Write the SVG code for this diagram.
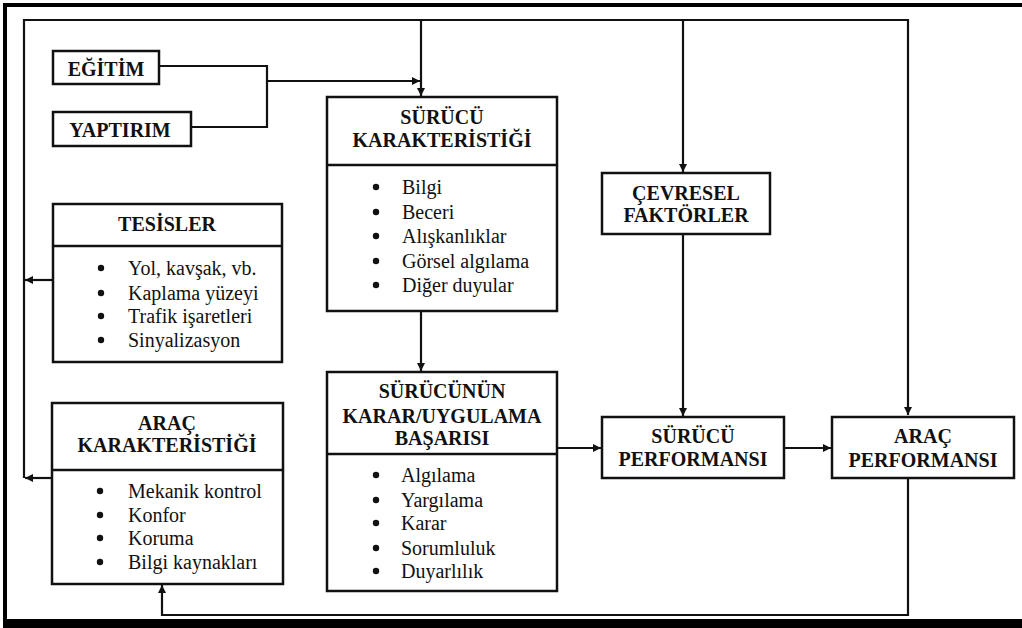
<svg xmlns="http://www.w3.org/2000/svg" width="1022" height="628" viewBox="0 0 1022 628">
<style>
.box{fill:#fff;stroke:#111;stroke-width:2.5}
.div{stroke:#111;stroke-width:2.5}
.ln{fill:none;stroke:#111;stroke-width:2.2}
.t{font-weight:bold;text-anchor:middle}
.d{fill:#111}
</style>
<defs>
<marker id="ah" viewBox="0 0 10 10" refX="10" refY="5" markerWidth="10" markerHeight="8" markerUnits="userSpaceOnUse" orient="auto"><path d="M0,0 L10,5 L0,10 z" fill="#111"/></marker>
</defs>
<rect x="0" y="0" width="1022" height="628" fill="#fff"/>
<rect x="5" y="5" width="1025" height="616" fill="none" stroke="#000" stroke-width="4"/>
<rect x="3" y="619" width="1019" height="9" fill="#000"/>

<g id="connectors">
<polyline class="ln" points="24,478 24,20 908,20 908,415" marker-end="url(#ah)"/>
<line class="ln" x1="421" y1="20" x2="421" y2="96" marker-end="url(#ah)"/>
<line class="ln" x1="683" y1="20" x2="683" y2="172" marker-end="url(#ah)"/>
<polyline class="ln" points="159,66 267,66 267,127 191,127"/>
<line class="ln" x1="267" y1="81" x2="420" y2="81" marker-end="url(#ah)"/>
<line class="ln" x1="421" y1="311" x2="421" y2="371" marker-end="url(#ah)"/>
<line class="ln" x1="683" y1="234" x2="683" y2="416" marker-end="url(#ah)"/>
<line class="ln" x1="557" y1="448" x2="601" y2="448" marker-end="url(#ah)"/>
<line class="ln" x1="784" y1="448" x2="831" y2="448" marker-end="url(#ah)"/>
<polyline class="ln" points="908,478 908,615 162,615 162,585" marker-end="url(#ah)"/>
<line class="ln" x1="53" y1="280" x2="25" y2="280" marker-end="url(#ah)"/>
<line class="ln" x1="52" y1="478" x2="25" y2="478" marker-end="url(#ah)"/>
</g>

<g font-family="Liberation Serif, Times New Roman, DejaVu Serif, serif" font-size="20" fill="#111">
<g id="egitim">
<rect class="box" x="53" y="51" width="106" height="33"/>
<text class="t" x="106" y="76">EĞİTİM</text>
</g>
<g id="yaptirim">
<rect class="box" x="53" y="112" width="138" height="34"/>
<text class="t" x="120" y="137">YAPTIRIM</text>
</g>

<g id="tesisler">
<rect class="box" x="53" y="204" width="229" height="158"/>
<line class="div" x1="53" y1="246" x2="282" y2="246"/>
<text class="t" x="167" y="231">TESİSLER</text>
<circle class="d" cx="101" cy="268" r="3.2"/><text x="128" y="275">Yol, kavşak, vb.</text>
<circle class="d" cx="101" cy="293" r="3.2"/><text x="128" y="300">Kaplama yüzeyi</text>
<circle class="d" cx="101" cy="316" r="3.2"/><text x="128" y="323">Trafik işaretleri</text>
<circle class="d" cx="101" cy="340" r="3.2"/><text x="128" y="347">Sinyalizasyon</text>
</g>

<g id="arac-karakteristigi">
<rect class="box" x="52" y="403" width="231" height="181"/>
<line class="div" x1="52" y1="470" x2="283" y2="470"/>
<text class="t" x="167" y="430">ARAÇ</text>
<text class="t" x="167" y="452">KARAKTERİSTİĞİ</text>
<circle class="d" cx="100" cy="491" r="3.2"/><text x="128" y="498">Mekanik kontrol</text>
<circle class="d" cx="100" cy="515" r="3.2"/><text x="128" y="522">Konfor</text>
<circle class="d" cx="100" cy="538" r="3.2"/><text x="128" y="545">Koruma</text>
<circle class="d" cx="100" cy="562" r="3.2"/><text x="128" y="569">Bilgi kaynakları</text>
</g>

<g id="surucu-karakteristigi">
<rect class="box" x="327" y="97" width="230" height="214"/>
<line class="div" x1="327" y1="165" x2="557" y2="165"/>
<text class="t" x="442" y="124">SÜRÜCÜ</text>
<text class="t" x="442" y="147">KARAKTERİSTİĞİ</text>
<circle class="d" cx="376" cy="187" r="3.2"/><text x="402" y="194">Bilgi</text>
<circle class="d" cx="376" cy="212" r="3.2"/><text x="402" y="219">Beceri</text>
<circle class="d" cx="376" cy="236" r="3.2"/><text x="402" y="243">Alışkanlıklar</text>
<circle class="d" cx="376" cy="261" r="3.2"/><text x="402" y="268">Görsel algılama</text>
<circle class="d" cx="376" cy="285" r="3.2"/><text x="402" y="292">Diğer duyular</text>
</g>

<g id="surucunun-karar">
<rect class="box" x="327" y="372" width="230" height="219"/>
<line class="div" x1="327" y1="454" x2="557" y2="454"/>
<text class="t" x="442" y="398">SÜRÜCÜNÜN</text>
<text class="t" x="442" y="423">KARAR/UYGULAMA</text>
<text class="t" x="442" y="445">BAŞARISI</text>
<circle class="d" cx="376" cy="475" r="3.2"/><text x="401" y="482">Algılama</text>
<circle class="d" cx="376" cy="500" r="3.2"/><text x="401" y="507">Yargılama</text>
<circle class="d" cx="376" cy="523" r="3.2"/><text x="401" y="530">Karar</text>
<circle class="d" cx="376" cy="548" r="3.2"/><text x="401" y="555">Sorumluluk</text>
<circle class="d" cx="376" cy="571" r="3.2"/><text x="401" y="578">Duyarlılık</text>
</g>

<g id="cevresel">
<rect class="box" x="602" y="173" width="168" height="61"/>
<text class="t" x="686" y="200">ÇEVRESEL</text>
<text class="t" x="686" y="222">FAKTÖRLER</text>
</g>

<g id="surucu-performansi">
<rect class="box" x="602" y="417" width="182" height="61"/>
<text class="t" x="693" y="443">SÜRÜCÜ</text>
<text class="t" x="693" y="466">PERFORMANSI</text>
</g>

<g id="arac-performansi">
<rect class="box" x="832" y="417" width="182" height="61"/>
<text class="t" x="923" y="443">ARAÇ</text>
<text class="t" x="923" y="467">PERFORMANSI</text>
</g>
</g>
</svg>
